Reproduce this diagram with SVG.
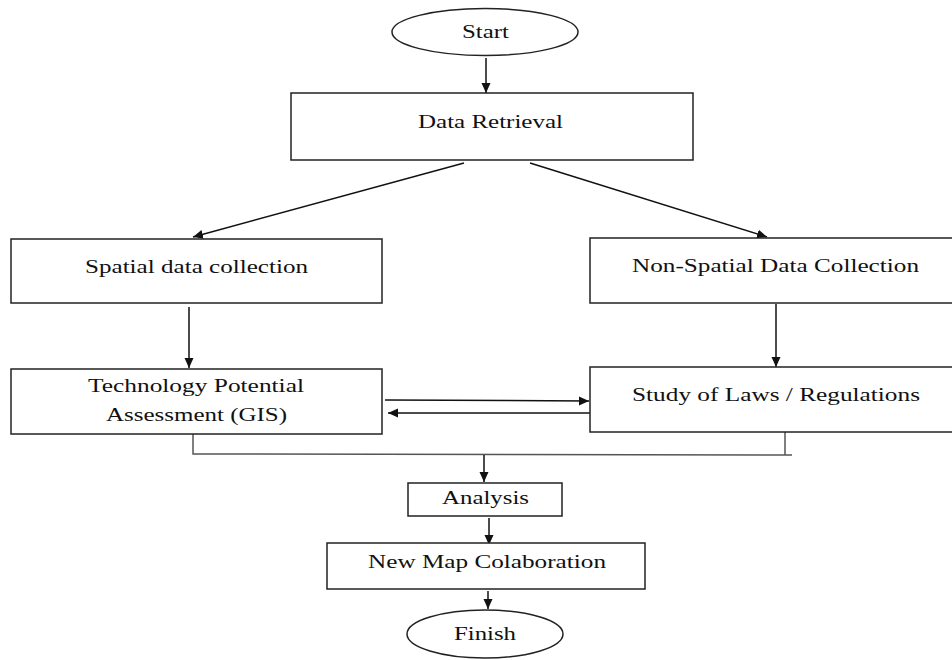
<svg xmlns="http://www.w3.org/2000/svg" width="952" height="660" viewBox="0 0 952 660">
<style>
  .box{fill:#fff;stroke:#222;stroke-width:1.5}
  .lbl{font-family:"Liberation Serif","Times New Roman",serif;font-size:19px;fill:#111}
  .arr{stroke:#111;stroke-width:1.5;fill:none;marker-end:url(#ah)}
  .ln{stroke:#555;stroke-width:1.5;fill:none}
</style>
<defs>
  <marker id="ah" markerUnits="userSpaceOnUse" markerWidth="12" markerHeight="10" refX="10" refY="5" orient="auto">
    <path d="M0,0.5 L10,5 L0,9.5 Z" fill="#111"/>
  </marker>
</defs>
<rect width="952" height="660" fill="#fff"/>
<g id="connectors">
  <path class="arr" d="M486,58 L486,93"/>
  <path class="arr" d="M464,163 L193,237"/>
  <path class="arr" d="M530,163 L767,237"/>
  <path class="arr" d="M189,307 L189,368"/>
  <path class="arr" d="M776,304 L776,367"/>
  <path class="arr" d="M385,400 L589,401"/>
  <path class="arr" d="M592,413 L388,413"/>
  <path class="ln" d="M193,434 L193,454 L792,455"/>
  <path class="ln" d="M785,432 L785,455"/>
  <path class="arr" d="M484,455 L484,482"/>
  <path class="arr" d="M489,518 L489,545"/>
  <path class="arr" d="M488,591 L488,609"/>
</g>
<g id="start">
  <ellipse class="box" cx="485" cy="32" rx="93" ry="23.5"/>
  <text class="lbl" x="462" y="38" textLength="47" lengthAdjust="spacingAndGlyphs">Start</text>
</g>
<g id="data-retrieval">
  <rect class="box" x="291" y="93" width="402" height="67"/>
  <text class="lbl" x="418" y="128" textLength="145" lengthAdjust="spacingAndGlyphs">Data Retrieval</text>
</g>
<g id="spatial">
  <rect class="box" x="11" y="239" width="371" height="64"/>
  <text class="lbl" x="85" y="273" textLength="223" lengthAdjust="spacingAndGlyphs">Spatial data collection</text>
</g>
<g id="non-spatial">
  <rect class="box" x="590" y="238" width="370" height="65"/>
  <text class="lbl" x="632" y="272" textLength="287" lengthAdjust="spacingAndGlyphs">Non-Spatial Data Collection</text>
</g>
<g id="technology">
  <rect class="box" x="11" y="369" width="371" height="65"/>
  <text class="lbl" x="88" y="392" textLength="216" lengthAdjust="spacingAndGlyphs">Technology Potential</text>
  <text class="lbl" x="106" y="421" textLength="181" lengthAdjust="spacingAndGlyphs">Assessment (GIS)</text>
</g>
<g id="laws">
  <rect class="box" x="590" y="367" width="370" height="65"/>
  <text class="lbl" x="632" y="401" textLength="288" lengthAdjust="spacingAndGlyphs">Study of Laws / Regulations</text>
</g>
<g id="analysis">
  <rect class="box" x="408" y="483" width="154" height="33"/>
  <text class="lbl" x="442" y="504" textLength="87" lengthAdjust="spacingAndGlyphs">Analysis</text>
</g>
<g id="new-map">
  <rect class="box" x="327" y="543" width="318" height="46"/>
  <text class="lbl" x="368" y="568" textLength="238" lengthAdjust="spacingAndGlyphs">New Map Colaboration</text>
</g>
<g id="finish">
  <ellipse class="box" cx="485" cy="634" rx="78" ry="24"/>
  <text class="lbl" x="454" y="640" textLength="62" lengthAdjust="spacingAndGlyphs">Finish</text>
</g>
</svg>
